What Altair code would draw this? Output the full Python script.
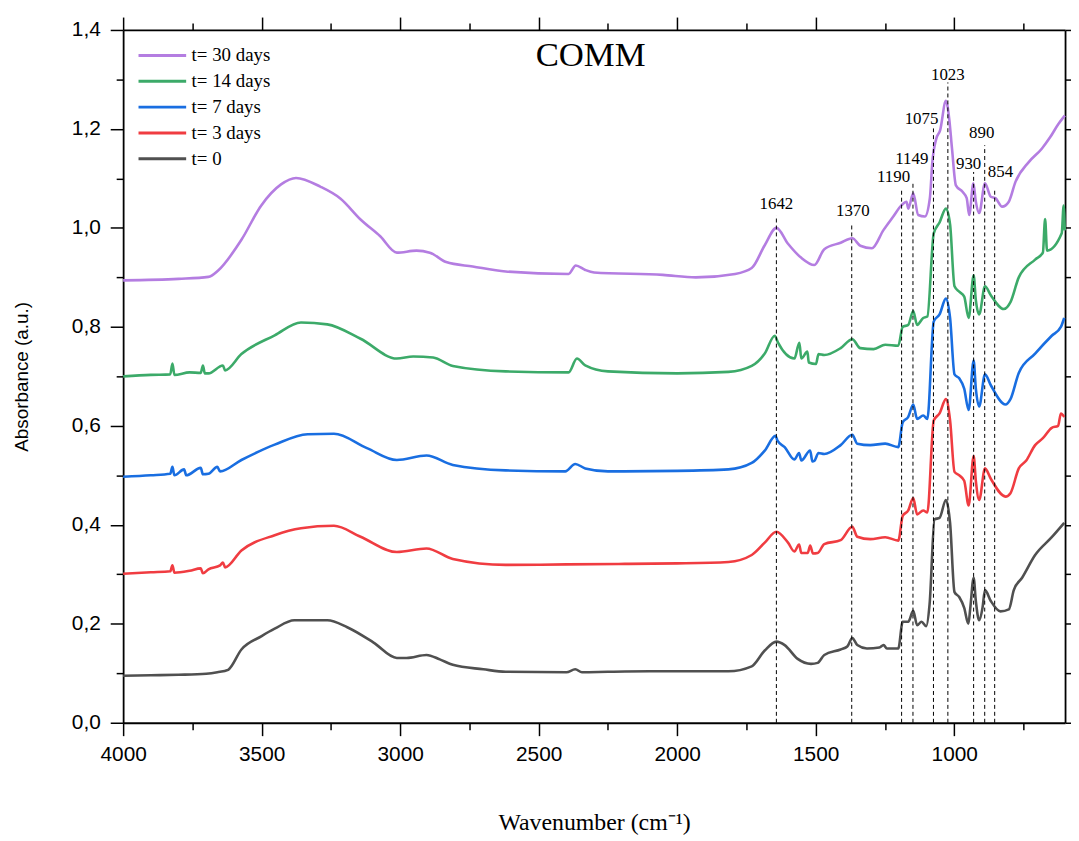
import altair as alt
import pandas as pd

# ---------------- data ----------------
series_names = ["t= 30 days", "t= 14 days", "t= 7 days", "t= 3 days", "t= 0"]
series_colors = ["#b47de1", "#3caa69", "#196ee1", "#f03c41", "#505050"]

t0 = [(4000, 0.095), (3900, 0.096), (3800, 0.097), (3700, 0.099), (3660, 0.102), (3621, 0.107),
      (3573, 0.148), (3500, 0.175), (3453, 0.190), (3382, 0.207), (3263, 0.207), (3191, 0.193),
      (3096, 0.162), (3012, 0.131), (2977, 0.131), (2905, 0.137), (2857, 0.128), (2810, 0.117),
      (2700, 0.108), (2619, 0.103), (2400, 0.102), (2368, 0.108), (2344, 0.102), (2250, 0.103),
      (2100, 0.104), (1950, 0.104), (1815, 0.104), (1731, 0.114), (1684, 0.146), (1642, 0.164),
      (1612, 0.157), (1565, 0.129), (1517, 0.119), (1493, 0.121), (1469, 0.137), (1410, 0.148),
      (1386, 0.154), (1368, 0.171), (1350, 0.157), (1315, 0.150), (1270, 0.152), (1255, 0.157),
      (1243, 0.150), (1202, 0.150), (1186, 0.204), (1166, 0.204), (1148, 0.226), (1134, 0.197),
      (1118, 0.204), (1101, 0.195), (1089, 0.239), (1071, 0.411), (1053, 0.414), (1030, 0.450),
      (1015, 0.404), (999, 0.264), (982, 0.254), (964, 0.232), (949, 0.200), (942, 0.232),
      (930, 0.293), (922, 0.246), (910, 0.207), (898, 0.232), (889, 0.268), (868, 0.246),
      (833, 0.225), (803, 0.229), (785, 0.268), (755, 0.293), (708, 0.339), (648, 0.375), (603, 0.404)]

t3 = [(4000, 0.301), (3900, 0.304), (3830, 0.306), (3822, 0.318), (3815, 0.303), (3760, 0.307),
      (3720, 0.312), (3712, 0.302), (3692, 0.310), (3650, 0.318), (3640, 0.324), (3632, 0.314),
      (3573, 0.348), (3453, 0.379), (3358, 0.393), (3239, 0.398), (3143, 0.376), (3012, 0.345),
      (2905, 0.352), (2810, 0.331), (2619, 0.319), (2400, 0.320), (2189, 0.321), (2000, 0.322),
      (1815, 0.325), (1731, 0.339), (1684, 0.364), (1642, 0.386), (1600, 0.364), (1577, 0.346),
      (1560, 0.360), (1552, 0.343), (1529, 0.343), (1520, 0.358), (1510, 0.342), (1493, 0.343),
      (1469, 0.361), (1410, 0.369), (1368, 0.396), (1350, 0.376), (1303, 0.371), (1249, 0.375),
      (1202, 0.368), (1186, 0.418), (1166, 0.429), (1148, 0.454), (1134, 0.421), (1112, 0.429),
      (1097, 0.425), (1074, 0.611), (1053, 0.625), (1030, 0.654), (1015, 0.611), (999, 0.507),
      (982, 0.500), (964, 0.489), (948, 0.439), (930, 0.539), (922, 0.489), (910, 0.450),
      (889, 0.514), (868, 0.493), (815, 0.457), (797, 0.464), (767, 0.514), (740, 0.530),
      (708, 0.561), (680, 0.575), (648, 0.596), (625, 0.600), (615, 0.625), (603, 0.618)]

t7 = [(4000, 0.497), (3900, 0.500), (3830, 0.503), (3822, 0.517), (3815, 0.500), (3780, 0.512),
      (3772, 0.500), (3720, 0.515), (3712, 0.502), (3692, 0.503), (3660, 0.517), (3650, 0.508),
      (3573, 0.531), (3453, 0.562), (3334, 0.583), (3239, 0.584), (3120, 0.555), (3012, 0.531),
      (2905, 0.540), (2810, 0.521), (2619, 0.510), (2404, 0.508), (2368, 0.523), (2332, 0.514),
      (2250, 0.508), (2000, 0.509), (1815, 0.512), (1731, 0.525), (1684, 0.550), (1645, 0.580),
      (1638, 0.570), (1612, 0.557), (1577, 0.532), (1560, 0.545), (1552, 0.530), (1520, 0.550),
      (1512, 0.528), (1505, 0.529), (1490, 0.545), (1469, 0.543), (1410, 0.561), (1368, 0.582),
      (1350, 0.564), (1303, 0.561), (1249, 0.564), (1202, 0.557), (1186, 0.607), (1166, 0.618),
      (1148, 0.643), (1134, 0.614), (1112, 0.621), (1097, 0.614), (1074, 0.811), (1053, 0.825),
      (1030, 0.857), (1015, 0.818), (999, 0.704), (982, 0.696), (964, 0.675), (948, 0.632),
      (930, 0.732), (922, 0.675), (910, 0.639), (889, 0.704), (868, 0.682), (815, 0.643),
      (797, 0.654), (767, 0.707), (708, 0.746), (648, 0.782), (615, 0.800), (603, 0.818)]

t14 = [(4000, 0.700), (3900, 0.703), (3830, 0.704), (3822, 0.726), (3815, 0.703), (3760, 0.708),
       (3720, 0.707), (3712, 0.722), (3705, 0.706), (3692, 0.706), (3640, 0.722), (3632, 0.712),
       (3573, 0.745), (3453, 0.783), (3358, 0.809), (3263, 0.805), (3143, 0.776), (3012, 0.736),
       (2953, 0.740), (2881, 0.738), (2810, 0.721), (2619, 0.710), (2392, 0.708), (2362, 0.736),
       (2332, 0.722), (2250, 0.710), (2000, 0.706), (1815, 0.709), (1731, 0.721), (1684, 0.746),
       (1648, 0.782), (1636, 0.768), (1577, 0.736), (1559, 0.768), (1552, 0.736), (1530, 0.750),
       (1525, 0.728), (1499, 0.725), (1490, 0.745), (1469, 0.743), (1410, 0.757), (1368, 0.775),
       (1339, 0.757), (1291, 0.755), (1249, 0.764), (1202, 0.762), (1186, 0.800), (1166, 0.804),
       (1148, 0.832), (1134, 0.804), (1112, 0.818), (1097, 0.821), (1074, 0.989), (1053, 1.011),
       (1030, 1.039), (1015, 1.007), (999, 0.882), (982, 0.871), (964, 0.861), (948, 0.818),
       (930, 0.904), (922, 0.854), (910, 0.825), (889, 0.882), (868, 0.864), (821, 0.836),
       (797, 0.850), (767, 0.900), (708, 0.936), (680, 0.950), (672, 1.018), (665, 0.954),
       (612, 0.989), (605, 1.045), (601, 0.995)]

t30 = [(4000, 0.894), (3800, 0.897), (3692, 0.901), (3657, 0.914), (3573, 0.976), (3502, 1.045),
       (3430, 1.088), (3376, 1.101), (3287, 1.083), (3215, 1.059), (3143, 1.017), (3072, 0.983),
       (3012, 0.950), (2941, 0.954), (2893, 0.950), (2834, 0.931), (2738, 0.922), (2619, 0.912),
       (2392, 0.907), (2366, 0.924), (2332, 0.915), (2300, 0.910), (2052, 0.905), (1933, 0.900),
       (1791, 0.907), (1731, 0.919), (1684, 0.965), (1642, 1.000), (1600, 0.968), (1553, 0.940),
       (1505, 0.925), (1469, 0.957), (1410, 0.970), (1368, 0.979), (1339, 0.964), (1297, 0.959),
       (1255, 0.996), (1220, 1.023), (1190, 1.046), (1172, 1.053), (1166, 1.039), (1148, 1.070),
       (1130, 1.026), (1106, 1.023), (1088, 1.060), (1079, 1.133), (1065, 1.180), (1051, 1.197),
       (1030, 1.257), (1018, 1.220), (1008, 1.160), (994, 1.086), (970, 1.073), (955, 1.060),
       (946, 1.026), (931, 1.090), (922, 1.053), (910, 1.030), (889, 1.090), (868, 1.063),
       (851, 1.060), (827, 1.043), (803, 1.053), (779, 1.093), (731, 1.133), (684, 1.160),
       (654, 1.183), (624, 1.210), (601, 1.227)]

peaks = [1642, 1370, 1190, 1149, 1075, 1023, 930, 890, 854]
peak_line_top = [1.025, 1.005, 1.080, 1.095, 1.201, 1.294, 1.113, 1.167, 1.080]
peak_label_wn = [1642, 1366, 1219, 1153, 1118, 1023, 948, 901, 833]
peak_label_y = [1.039, 1.025, 1.093, 1.130, 1.210, 1.299, 1.120, 1.181, 1.103]

x_ticks = list(range(4000, 749, -250))
y_ticks = [round(0.1 * i, 1) for i in range(15)]

# ---------------- tables ----------------
rows = []
for name, pts in zip(series_names, [t30, t14, t7, t3, t0]):
    for w, a in pts:
        rows.append({"series": name, "wn": w, "absorb": a})
spec_df = pd.DataFrame(rows)

rule_df = pd.DataFrame({"peak": peaks, "base": [0.0] * len(peaks), "top": peak_line_top})
lab_df = pd.DataFrame({"lx": peak_label_wn, "ly": peak_label_y, "label": [str(p) for p in peaks]})
title_df = pd.DataFrame({"t": ["COMM"]})

xscale = alt.Scale(domain=[600, 4000], reverse=True, nice=False, zero=False)
yscale = alt.Scale(domain=[0, 1.4], nice=False, zero=False)

x_major = "(datum.value % 500 === 0)"
y_major = "(round(datum.value * 10) % 2 === 0)"
x_tick = alt.ExprRef(expr=f"({x_major} ? 13 : 7)")
y_tick = alt.ExprRef(expr=f"({y_major} ? 13 : 7)")

common = dict(grid=False, domainColor="black", domainWidth=1.8, tickColor="black",
              tickWidth=1.5, labelColor="black", titleColor="black")

x_bottom = alt.Axis(orient="bottom", values=x_ticks, tickSize=x_tick,
                    labelExpr=f"{x_major} ? format(datum.value, 'd') : ''",
                    labelFont="Liberation Sans", labelFontSize=21, labelPadding=8,
                    labelOverlap=False, labelFlush=False,
                    title="Wavenumber (cm\u207b\u00b9)", titleFont="Liberation Serif",
                    titleFontSize=24, titleFontWeight="normal", titleY=101,
                    titleBaseline="middle", **common)
y_left = alt.Axis(orient="left", values=y_ticks, tickSize=y_tick,
                  labelExpr=f"{y_major} ? replace(format(datum.value, '.1f'), '.', ',') : ''",
                  labelFont="Liberation Sans", labelFontSize=21, labelPadding=10,
                  labelOverlap=False, labelFlush=False,
                  title="Absorbance (a.u.)", titleFont="Liberation Sans", titleFontSize=19,
                  titleFontWeight="normal", titleX=-102, titleY=349, titleBaseline="middle",
                  **common)
x_top = alt.Axis(orient="top", values=x_ticks, tickSize=x_tick, labels=False, title=None, **common)
y_right = alt.Axis(orient="right", values=y_ticks, tickSize=y_tick, labels=False, title=None, **common)

lines = alt.Chart(spec_df).mark_line(strokeWidth=2.6, strokeJoin="round",
                                     interpolate="monotone").encode(
    x=alt.X("wn:Q", scale=xscale, axis=x_bottom),
    y=alt.Y("absorb:Q", scale=yscale, axis=y_left),
    color=alt.Color("series:N",
                    scale=alt.Scale(domain=series_names, range=series_colors),
                    legend=alt.Legend(orient="none", legendX=14, legendY=13, title=None,
                                      symbolType="stroke", symbolSize=2304,
                                      symbolStrokeWidth=3, clipHeight=25.5,
                                      labelFont="Liberation Serif", labelFontSize=19,
                                      labelColor="black", labelOffset=4, padding=0,
                                      rowPadding=0)),
)

rules = alt.Chart(rule_df).mark_rule(color="black", strokeWidth=1, strokeDash=[4, 3]).encode(
    x=alt.X("peak:Q", scale=xscale, axis=x_top),
    y=alt.Y("base:Q", scale=yscale, axis=y_right),
    y2="top:Q",
)

labels = alt.Chart(lab_df).mark_text(font="Liberation Serif", fontSize=17, color="black",
                                     align="center", baseline="alphabetic").encode(
    x=alt.X("lx:Q", scale=xscale, axis=None),
    y=alt.Y("ly:Q", scale=yscale, axis=None),
    text="label:N",
)

title = alt.Chart(title_df).mark_text(font="Liberation Serif", fontSize=35, color="black",
                                      align="center", baseline="alphabetic").encode(
    x=alt.value(471), y=alt.value(36), text="t:N")

chart = alt.layer(lines, rules, labels, title).resolve_axis(
    x="independent", y="independent"
).properties(
    width=949, height=698,
    padding={"left": 116, "top": 19, "right": 6, "bottom": 114},
    autosize=alt.AutoSizeParams(type="none"),
).configure_view(stroke=None)

chart.save("out.html", embed_options={"renderer": "svg", "actions": False})
